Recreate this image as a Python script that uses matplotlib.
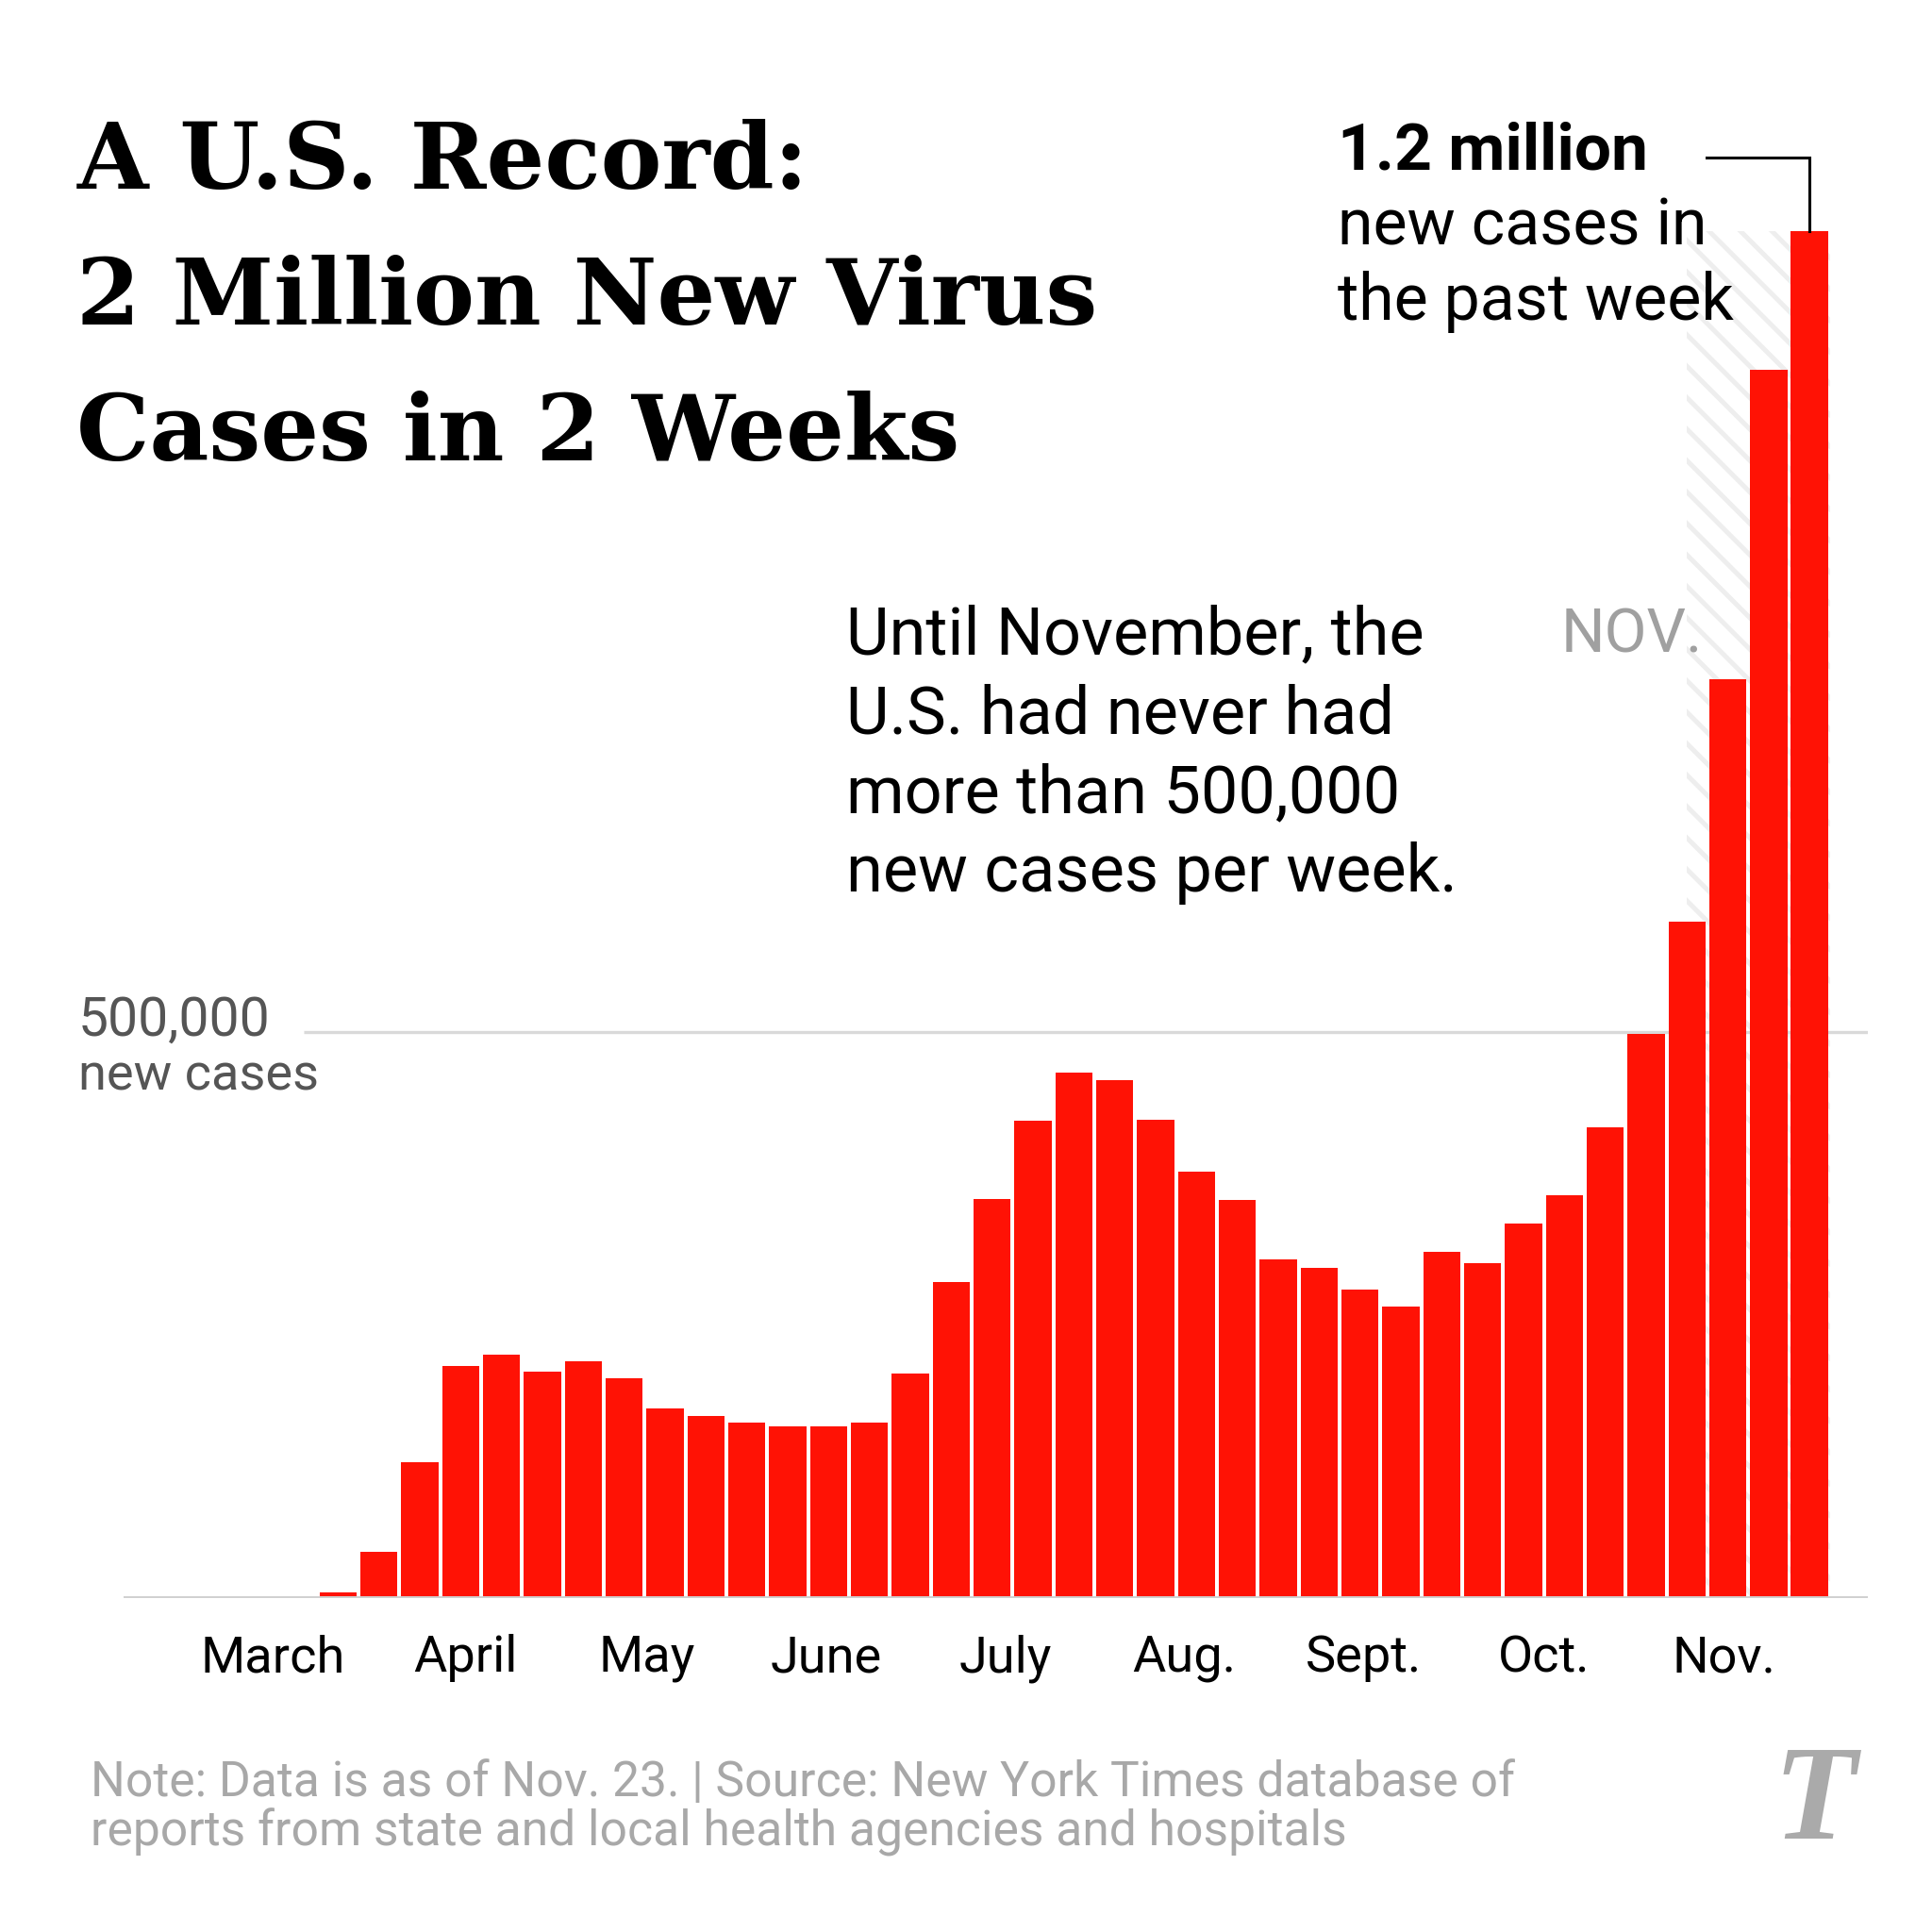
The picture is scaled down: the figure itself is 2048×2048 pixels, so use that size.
import matplotlib
matplotlib.use("Agg")
import matplotlib.pyplot as plt
import numpy as np

# weekly new cases, March 10 -> Nov. 23
weekly_cases = [4400, 40500, 120000, 204600, 214400, 200000, 209000, 193600,
                167400, 160800, 154300, 151000, 151000, 154300, 198000, 279000,
                352300, 421200, 463900, 457300, 422300, 376300, 351200, 298700,
                291000, 272400, 257100, 305200, 295400, 330400, 355600, 415700,
                497800, 597300, 811700, 1085200, 1207800]
month_labels = ['March', 'April', 'May', 'June', 'July', 'Aug.', 'Sept.', 'Oct.', 'Nov.']
month_pos = [-1.6, 3.12, 7.55, 11.94, 16.33, 20.7, 25.1, 29.5, 33.9]
nov_start = 33.0

title_lines = ['A U.S. Record:', '2 Million New Virus', 'Cases in 2 Weeks']
note_lines = ['Until November, the', 'U.S. had never had',
              'more than 500,000', 'new cases per week.']
footer_lines = ['Note: Data is as of Nov. 23. | Source: New York Times database of',
                'reports from state and local health agencies and hospitals']

RED = '#ff1205'
SANS = ['Roboto', 'DejaVu Sans']
SERIF = ['DejaVu Serif']

plt.rcParams['hatch.linewidth'] = 1.8
plt.rcParams['hatch.color'] = '#eeeeee'

W = 1560.0


def fx(x):
    return x / W


def fy(y):
    return 1 - y / W


fig = plt.figure(figsize=(10.24, 10.24), dpi=200)
fig.patch.set_facecolor('white')

ax = fig.add_axes([fx(100), fy(1290), (1508 - 100) / W, (1290 - 102) / W])
x = np.arange(len(weekly_cases))

# hatched november band
ax.axvspan(nov_start, x[-1] + 0.5, ymin=0, ymax=max(weekly_cases) / 1.3e6,
           facecolor='white', edgecolor='#eeeeee', hatch='\\\\', linewidth=0, zorder=0)

ax.bar(x, weekly_cases, width=0.91, color=RED, zorder=3)

ax.set_xlim(-5.24, 37.42)
ax.set_ylim(0, 1.3e6)
ax.axhline(0, color='#d0d0d0', lw=1.4, zorder=4)
ax.hlines(500000, -0.85, 37.42, color='#d9d9d9', lw=1.2, zorder=1)
for s in ax.spines.values():
    s.set_visible(False)
ax.set_yticks([])
ax.set_xticks(month_pos)
ax.set_xticklabels(month_labels, fontsize=19.5, family=SANS)
ax.tick_params(axis='x', length=0, pad=14)
ax.patch.set_alpha(0)

# connector to the last bar
ax.plot([33.48, x[-1], x[-1]], [1272000, 1272000, weekly_cases[-1]],
        color='black', lw=1.1, zorder=5, solid_joinstyle='miter')

# title
for i, line in enumerate(title_lines):
    fig.text(fx(62), fy(152 + 110 * i), line, family=SERIF, weight='bold',
             fontsize=35, va='baseline', ha='left')

for i, line in enumerate(note_lines):
    fig.text(fx(683), fy(528 + 64 * i), line, family=SANS,
             fontsize=25.3, va='baseline', ha='left')

fig.text(fx(1080), fy(137), '1.2 million', family=SANS, weight='bold',
         fontsize=25, va='baseline', ha='left')
fig.text(fx(1080), fy(198), 'new cases in', family=SANS,
         fontsize=24.5, va='baseline', ha='left')
fig.text(fx(1080), fy(258), 'the past week', family=SANS,
         fontsize=24.5, va='baseline', ha='left')

fig.text(fx(1260), fy(527), 'NOV.', family=SANS, color='#a0a0a0',
         fontsize=23.5, va='baseline', ha='left')

fig.text(fx(63), fy(836), '500,000', family=SANS, color='#555555',
         fontsize=20.5, va='baseline', ha='left')
fig.text(fx(63), fy(880), 'new cases', family=SANS, color='#555555',
         fontsize=19.5, va='baseline', ha='left')

for i, line in enumerate(footer_lines):
    fig.text(fx(73), fy(1450 + 40 * i), line, family=SANS,
             color='#a8a8a8', fontsize=18.6, va='baseline', ha='left')

# logo stand-in
fig.text(fx(1465), fy(1458), 'T', family=['Liberation Serif'], weight='bold', style='italic',
         color='#aaaaaa', fontsize=52, va='center', ha='center')

fig.savefig('out.png', dpi=200, facecolor='white')
